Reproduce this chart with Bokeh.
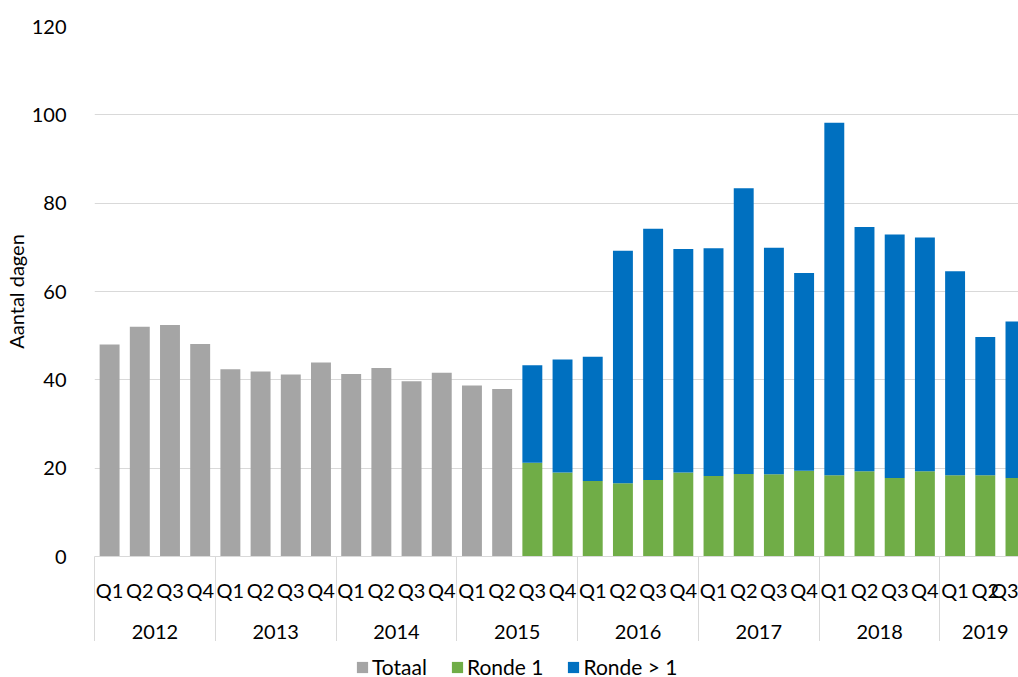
from bokeh.plotting import figure
from bokeh.models import (ColumnDataSource, Range1d, FixedTicker, LinearAxis, Legend)
from bokeh.layouts import column
from bokeh.embed import file_html
from bokeh.resources import INLINE

# ---- data ----
years = ["2012", "2013", "2014", "2015", "2016", "2017", "2018", "2019"]
quarters = ["Q1", "Q2", "Q3", "Q4"]
periods = [(y, q) for y in years for q in quarters][:31]   # 2012 Q1 .. 2019 Q3

totaal = [48.0, 52.0, 52.4, 48.1, 42.4, 41.9, 41.2, 43.9, 41.3, 42.7, 39.7, 41.6, 38.7, 37.9]
ronde1 = [21.2, 19.0, 17.1, 16.6, 17.3, 19.0, 18.2, 18.7, 18.6, 19.4, 18.4, 19.3, 17.8, 19.3,
          18.4, 18.4, 17.8]
ronde_gt1 = [22.1, 25.6, 28.1, 52.6, 56.9, 50.6, 51.6, 64.7, 51.3, 44.8, 79.8, 55.3, 55.1, 52.9,
             46.2, 31.3, 35.4]
y_ticks = [0, 20, 40, 60, 80, 100, 120]
series_names = ["Totaal", "Ronde 1", "Ronde > 1"]

FONT = "Lato"
FS = "20px"
GRID = "#d9d9d9"
GREY, GREEN, BLUE = "#a5a5a5", "#70ad47", "#0070c0"

n_tot = len(totaal)
x_all = list(range(len(periods)))
src_tot = ColumnDataSource(dict(x=x_all[:n_tot], top=totaal))
src_r = ColumnDataSource(dict(x=x_all[n_tot:], ronde1=ronde1, ronde_gt1=ronde_gt1))

p = figure(frame_width=924, frame_height=530, output_backend="svg", toolbar_location=None,
           x_range=Range1d(-0.5, 30.1), y_range=Range1d(0, 120),
           min_border_left=80, min_border_right=0, min_border_top=26, min_border_bottom=0)
p.outline_line_color = None
p.background_fill_color = "white"

p.vbar(x="x", top="top", width=0.66, source=src_tot, fill_color=GREY, line_color=None)
p.vbar_stack(["ronde1", "ronde_gt1"], x="x", width=0.66, source=src_r,
             fill_color=[GREEN, BLUE], line_color=None)

# grid
p.xgrid.visible = False
p.ygrid.grid_line_color = GRID
p.ygrid.ticker = FixedTicker(ticks=y_ticks)

# y axis
ya = p.yaxis[0]
ya.ticker = FixedTicker(ticks=y_ticks)
ya.axis_line_color = None
ya.major_tick_line_color = None
ya.minor_tick_line_color = None
ya.major_label_standoff = 22
ya.major_label_text_font = FONT
ya.major_label_text_font_size = FS
ya.major_label_text_color = "black"
ya.axis_label = "Aantal dagen"
ya.axis_label_text_font = FONT
ya.axis_label_text_font_size = FS
ya.axis_label_text_font_style = "normal"
ya.axis_label_text_color = "black"
ya.axis_label_standoff = 1

# quarter axis (with year separators as long minor ticks)
seps = [i * 4 - 0.5 for i in range(len(years))]
xa = p.xaxis[0]
xa.ticker = FixedTicker(ticks=x_all, minor_ticks=seps)
xa.major_label_overrides = {i: q for i, (y, q) in enumerate(periods)}
xa.axis_line_color = GRID
xa.major_tick_line_color = None
xa.minor_tick_line_color = GRID
xa.minor_tick_in = 0
xa.minor_tick_out = 87
xa.major_tick_in = 0
xa.major_tick_out = 0
xa.major_label_standoff = 21 - 87
xa.major_label_text_font = FONT
xa.major_label_text_font_size = FS
xa.major_label_text_color = "black"

# year axis
year_pos = []
for y in years:
    idx = [i for i, (yy, q) in enumerate(periods) if yy == y]
    year_pos.append((idx[0] + idx[-1]) / 2)
ya2 = LinearAxis(ticker=FixedTicker(ticks=year_pos, minor_ticks=[]),
                 major_label_overrides={pos: y for pos, y in zip(year_pos, years)})
ya2.axis_line_color = None
ya2.major_tick_line_color = None
ya2.minor_tick_line_color = None
ya2.major_tick_in = 0
ya2.major_tick_out = 0
ya2.major_label_standoff = 20
ya2.major_label_text_font = FONT
ya2.major_label_text_font_size = FS
ya2.major_label_text_color = "black"
p.add_layout(ya2, "below")

# legend strip: the same series, drawn outside this strip's visible ranges
pl = figure(width=1004, height=37, output_backend="svg", toolbar_location=None,
            x_range=Range1d(1000, 1001), y_range=Range1d(1000, 1001),
            x_axis_type=None, y_axis_type=None,
            min_border_left=0, min_border_right=0, min_border_top=0, min_border_bottom=0)
pl.outline_line_color = None
pl.xgrid.visible = False
pl.ygrid.visible = False
lt = pl.vbar(x="x", top="top", width=0.66, source=src_tot, fill_color=GREY, line_color=None)
ls = pl.vbar_stack(["ronde1", "ronde_gt1"], x="x", width=0.66, source=src_r,
                   fill_color=[GREEN, BLUE], line_color=None)
legend = Legend(items=[(series_names[0], [lt]), (series_names[1], [ls[0]]), (series_names[2], [ls[1]])],
                orientation="horizontal", location=(261, -1), padding=0, margin=0,
                spacing=23, label_standoff=3, glyph_width=14, glyph_height=14,
                label_height=14, label_text_line_height=0.9,
                border_line_color=None, background_fill_alpha=0,
                label_text_font=FONT, label_text_font_size="21px", label_text_color="black")
pl.add_layout(legend, "center")

layout = column(p, pl, spacing=0)
open("out.html", "w").write(file_html(layout, INLINE))
